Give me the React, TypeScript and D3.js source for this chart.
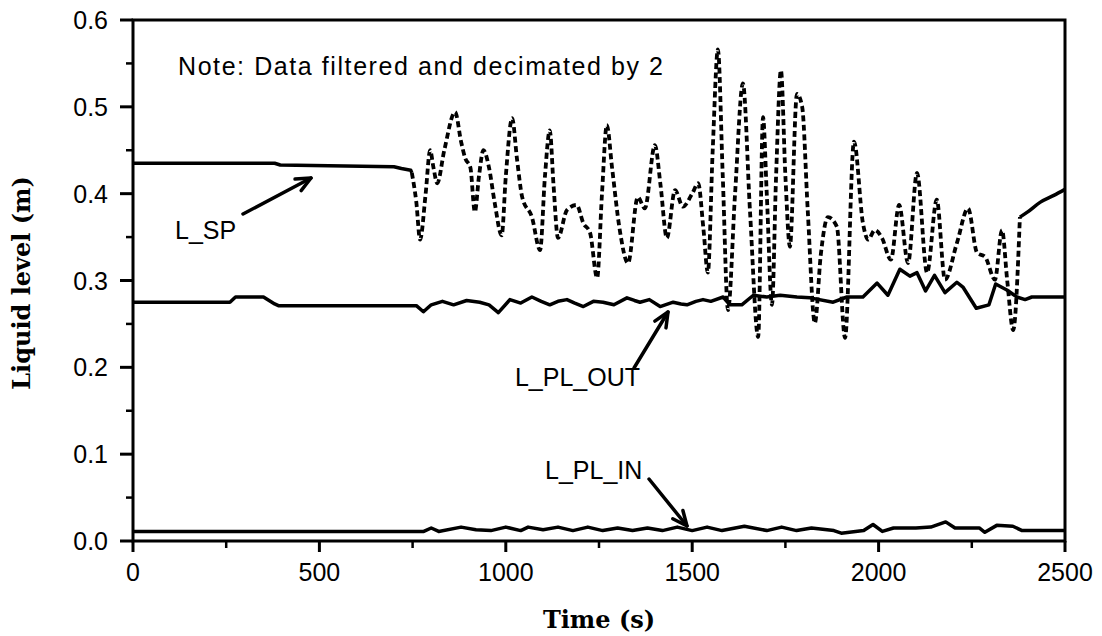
import React from "react";
import * as d3 from "d3";

type Pt = [number, number];

// L_SP: solid before the test, dashed during, solid at the end
const lspSolidStart: Pt[] = [
  [0, 0.435], [380, 0.435], [395, 0.433], [700, 0.431], [720, 0.429], [745, 0.427], [748, 0.424],
];
const lspDashed: Pt[] = [
  [748, 0.424], [760, 0.39], [770, 0.347], [785, 0.4], [797, 0.45], [806, 0.43], [816, 0.412],
  [835, 0.45], [864, 0.494], [880, 0.46], [891, 0.441], [905, 0.43], [917, 0.379], [928, 0.42],
  [940, 0.45], [955, 0.43], [970, 0.39], [989, 0.352], [1000, 0.42], [1017, 0.487], [1030, 0.44],
  [1044, 0.396], [1070, 0.373], [1092, 0.335], [1105, 0.42], [1118, 0.473], [1128, 0.41],
  [1140, 0.349], [1164, 0.381], [1190, 0.387], [1208, 0.366], [1226, 0.355], [1245, 0.303],
  [1258, 0.4], [1271, 0.479], [1285, 0.43], [1305, 0.36], [1328, 0.32], [1354, 0.396],
  [1373, 0.383], [1400, 0.456], [1415, 0.41], [1432, 0.349], [1454, 0.404], [1475, 0.385],
  [1500, 0.4], [1516, 0.412], [1530, 0.36], [1542, 0.309], [1555, 0.45], [1569, 0.566],
  [1582, 0.42], [1596, 0.266], [1615, 0.4], [1636, 0.527], [1655, 0.38], [1677, 0.235],
  [1690, 0.488], [1700, 0.4], [1714, 0.272], [1725, 0.42], [1738, 0.542], [1750, 0.42],
  [1762, 0.339], [1781, 0.515], [1795, 0.5], [1810, 0.38], [1829, 0.251], [1845, 0.33],
  [1864, 0.373], [1888, 0.362], [1910, 0.234], [1934, 0.46], [1958, 0.366], [1972, 0.347],
  [1990, 0.358], [2009, 0.349], [2033, 0.324], [2055, 0.387], [2079, 0.32], [2103, 0.424],
  [2130, 0.309], [2156, 0.393], [2178, 0.301], [2210, 0.343], [2240, 0.383], [2264, 0.332],
  [2286, 0.327], [2312, 0.301], [2331, 0.358], [2345, 0.3], [2361, 0.243], [2379, 0.373],
];
const lspSolidEnd: Pt[] = [
  [2379, 0.373], [2400, 0.379], [2433, 0.39], [2470, 0.398], [2500, 0.405],
];

const lplOut: Pt[] = [
  [0, 0.275], [260, 0.275], [275, 0.281], [350, 0.281], [380, 0.273], [390, 0.271], [760, 0.271],
  [779, 0.264], [800, 0.272], [830, 0.276], [860, 0.272], [895, 0.277], [930, 0.275],
  [955, 0.272], [980, 0.263], [1011, 0.278], [1040, 0.274], [1070, 0.281], [1095, 0.276],
  [1118, 0.272], [1140, 0.276], [1164, 0.278], [1185, 0.274], [1208, 0.27], [1235, 0.276],
  [1261, 0.275], [1290, 0.272], [1325, 0.28], [1345, 0.277], [1360, 0.275], [1385, 0.278],
  [1414, 0.27], [1449, 0.275], [1470, 0.273], [1486, 0.272], [1510, 0.276], [1529, 0.278],
  [1550, 0.276], [1583, 0.281], [1601, 0.272], [1633, 0.272], [1664, 0.283], [1700, 0.281],
  [1736, 0.283], [1781, 0.281], [1816, 0.28], [1878, 0.275], [1915, 0.281], [1958, 0.281],
  [1996, 0.297], [2025, 0.283], [2057, 0.313], [2084, 0.305], [2103, 0.309], [2126, 0.288],
  [2150, 0.306], [2178, 0.286], [2210, 0.298], [2227, 0.292], [2262, 0.268], [2296, 0.272],
  [2314, 0.296], [2344, 0.289], [2371, 0.281], [2393, 0.278], [2411, 0.281], [2500, 0.281],
];

const lplIn: Pt[] = [
  [0, 0.011], [780, 0.011], [800, 0.015], [820, 0.011], [880, 0.016], [920, 0.013], [960, 0.012],
  [1000, 0.016], [1040, 0.012], [1060, 0.016], [1100, 0.013], [1140, 0.016], [1180, 0.012],
  [1220, 0.016], [1260, 0.012], [1300, 0.015], [1340, 0.012], [1380, 0.015], [1420, 0.012],
  [1460, 0.016], [1500, 0.012], [1540, 0.016], [1580, 0.012], [1640, 0.017], [1700, 0.012],
  [1740, 0.016], [1780, 0.012], [1820, 0.015], [1880, 0.012], [1900, 0.009], [1960, 0.012],
  [1985, 0.019], [2010, 0.011], [2040, 0.015], [2100, 0.015], [2140, 0.016], [2180, 0.022],
  [2205, 0.015], [2270, 0.015], [2285, 0.01], [2317, 0.018], [2360, 0.017], [2385, 0.012],
  [2500, 0.012],
];

const xTicks = [0, 500, 1000, 1500, 2000, 2500];
const xMinor = [250, 750, 1250, 1750, 2250];
const yTicks = [0, 0.1, 0.2, 0.3, 0.4, 0.5, 0.6];
const yMinor = [0.05, 0.15, 0.25, 0.35, 0.45, 0.55];

const M = { left: 133, right: 1065, top: 20, bottom: 541 };

export default function App() {
  const x = d3.scaleLinear().domain([0, 2500]).range([M.left, M.right]);
  const y = d3.scaleLinear().domain([0, 0.6]).range([M.bottom, M.top]);
  const lin = d3.line<Pt>().x((d) => x(d[0])).y((d) => y(d[1]));
  const smooth = d3
    .line<Pt>()
    .x((d) => x(d[0]))
    .y((d) => y(d[1]))
    .curve(d3.curveMonotoneX);

  const sans = "'Liberation Sans', Arial, sans-serif";
  const serif = "'DejaVu Serif', serif";

  const arrow = (x1: number, y1: number, x2: number, y2: number) => {
    const ang = Math.atan2(y2 - y1, x2 - x1);
    const L = 16;
    const a1 = ang + Math.PI - 0.42;
    const a2 = ang + Math.PI + 0.42;
    return (
      <g stroke="#000" strokeWidth={3.5} fill="none" strokeLinecap="round" strokeLinejoin="round">
        <line x1={x1} y1={y1} x2={x2} y2={y2} />
        <path
          d={`M${x2 + L * Math.cos(a1)},${y2 + L * Math.sin(a1)} L${x2},${y2} L${x2 + L * Math.cos(a2)},${y2 + L * Math.sin(a2)}`}
        />
      </g>
    );
  };

  return (
    <svg width={1102} height={636} style={{ position: "absolute", left: 0, top: 0, background: "#fff" }}>
      <rect x={0} y={0} width={1102} height={636} fill="#fff" />
      {/* frame */}
      <rect
        x={M.left}
        y={M.top}
        width={M.right - M.left}
        height={M.bottom - M.top}
        fill="none"
        stroke="#000"
        strokeWidth={3}
      />
      {/* x ticks */}
      {xTicks.map((t) => (
        <g key={"xt" + t}>
          <line x1={x(t)} x2={x(t)} y1={M.bottom} y2={M.bottom + 11} stroke="#000" strokeWidth={3} />
          <text x={x(t)} y={581} textAnchor="middle" fontFamily={sans} fontSize={25} fill="#000">
            {t}
          </text>
        </g>
      ))}
      {xMinor.map((t) => (
        <line key={"xm" + t} x1={x(t)} x2={x(t)} y1={M.bottom} y2={M.bottom + 7} stroke="#000" strokeWidth={2.5} />
      ))}
      {/* y ticks */}
      {yTicks.map((v) => (
        <g key={"yt" + v}>
          <line x1={M.left - 13} x2={M.left} y1={y(v)} y2={y(v)} stroke="#000" strokeWidth={3} />
          <text x={108} y={y(v) + 9} textAnchor="end" fontFamily={sans} fontSize={25} fill="#000">
            {v.toFixed(1)}
          </text>
        </g>
      ))}
      {yMinor.map((v) => (
        <line key={"ym" + v} x1={M.left - 7} x2={M.left} y1={y(v)} y2={y(v)} stroke="#000" strokeWidth={2.5} />
      ))}

      {/* data */}
      <g fill="none" stroke="#000" strokeLinejoin="round">
        <path d={lin(lplIn) ?? ""} strokeWidth={3.5} />
        <path d={lin(lplOut) ?? ""} strokeWidth={3.5} />
        <path d={lin(lspSolidStart) ?? ""} strokeWidth={3.5} />
        <path d={smooth(lspDashed) ?? ""} strokeWidth={3.8} strokeDasharray="6 3.5" />
        <path d={smooth(lspSolidEnd) ?? ""} strokeWidth={3.5} />
      </g>

      {/* annotations */}
      <text x={178} y={75} fontFamily={sans} fontSize={25} textLength={485} lengthAdjust="spacing" fill="#000">
        Note: Data filtered and decimated by 2
      </text>
      <text x={175} y={239} fontFamily={sans} fontSize={25} fill="#000">L_SP</text>
      {arrow(243, 214, 311, 178)}
      <text x={640} y={386} textAnchor="end" fontFamily={sans} fontSize={25} fill="#000">L_PL_OUT</text>
      {arrow(634, 368, 668, 312)}
      <text x={545} y={479} fontFamily={sans} fontSize={25} fill="#000">L_PL_IN</text>
      {arrow(649, 479, 687, 526)}

      {/* axis titles */}
      <text x={599} y={628} textAnchor="middle" fontFamily={serif} fontWeight="bold" fontSize={24} fill="#000">
        Time (s)
      </text>
      <text
        transform={`translate(30, 283) rotate(-90)`}
        textAnchor="middle"
        fontFamily={serif}
        fontWeight="bold"
        fontSize={24}
        fill="#000"
      >
        Liquid level (m)
      </text>
    </svg>
  );
}
